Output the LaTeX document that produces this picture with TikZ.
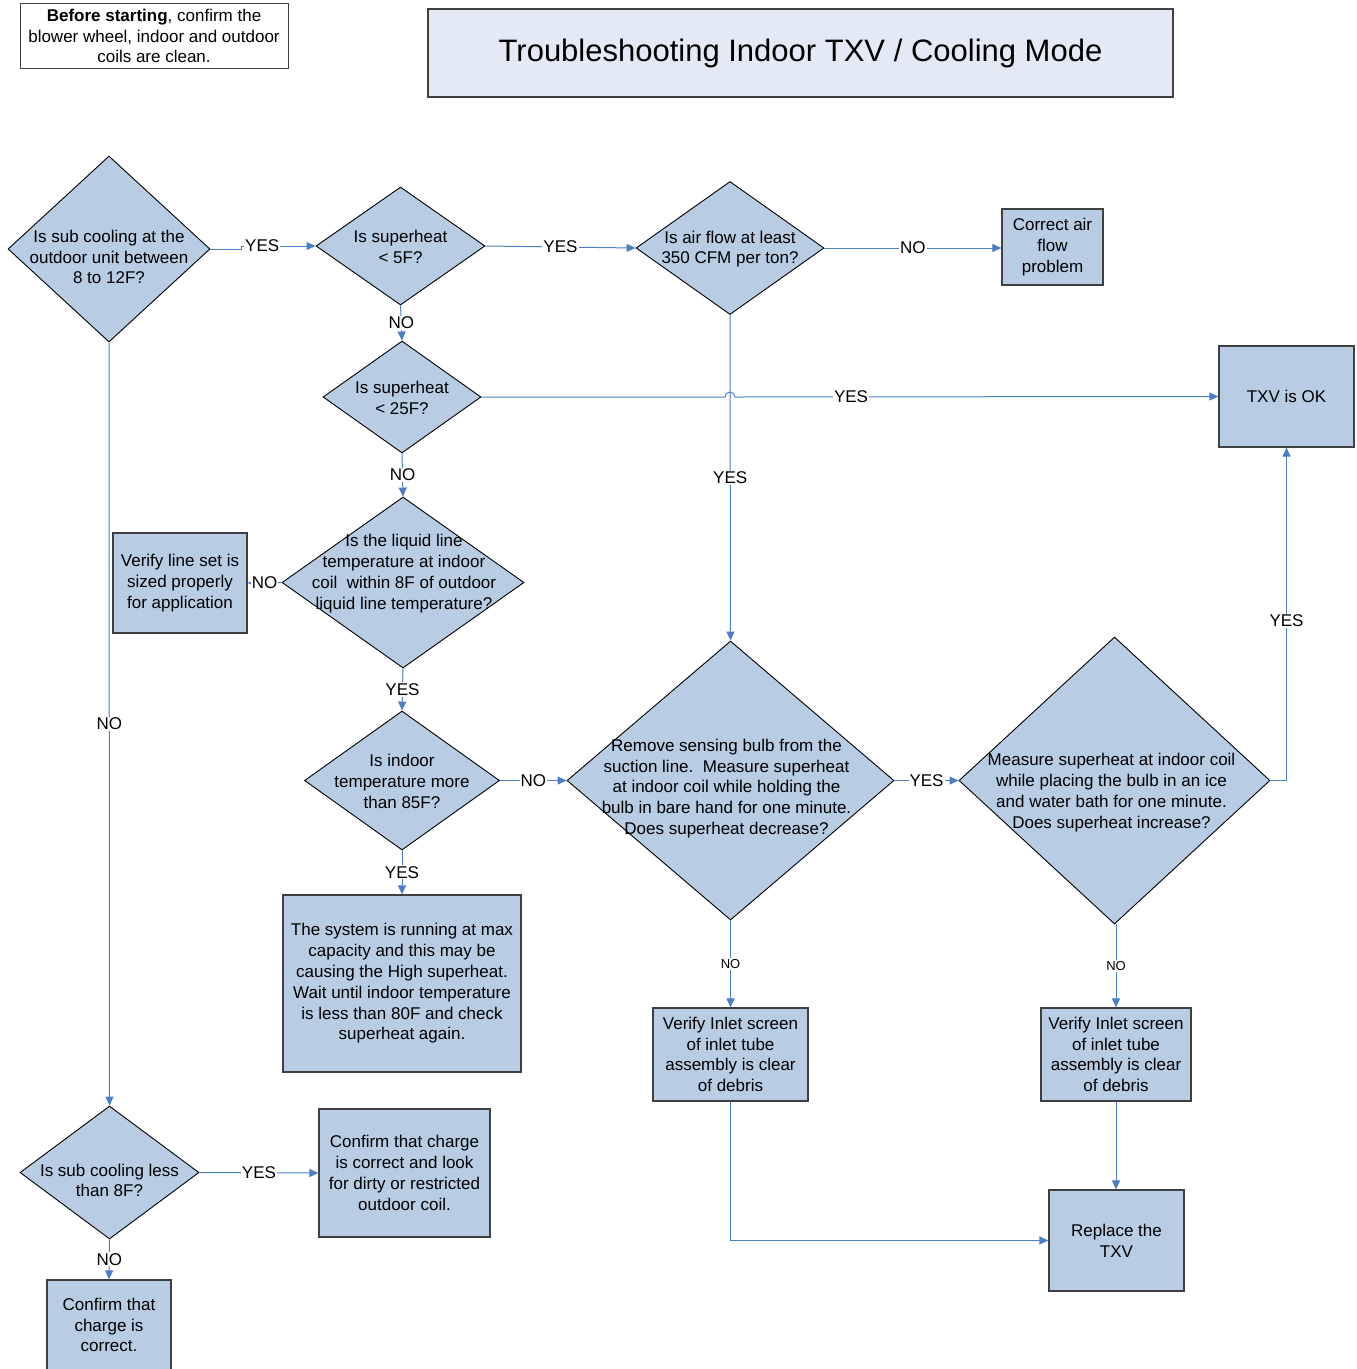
\documentclass[tikz,border=0pt]{standalone}
\usepackage{fontspec}
\setmainfont{Liberation Sans}
\usetikzlibrary{shapes.geometric,arrows.meta,calc}

\definecolor{boxblue}{HTML}{B8CCE4}
\definecolor{titleblue}{HTML}{E4EAF5}
\definecolor{lineblue}{HTML}{4A7EC8}

\begin{document}
\begin{tikzpicture}[x=1pt, y=-1pt,
    txt/.style={font=\fontsize{17}{20.8}\selectfont, align=center},
    decision/.style={shape=diamond, draw=black, line width=0.9pt, fill=boxblue, inner sep=0pt},
    qtext/.style={txt, inner sep=0pt},
    action/.style={txt, draw=black!75, line width=1.2pt, fill=boxblue, inner sep=2pt},
    arr/.style={draw=lineblue, line width=1pt, -{Triangle[length=9pt,width=8pt]}},
    lab/.style={txt, fill=white, inner sep=1pt},
    smalllab/.style={lab, font=\fontsize{13}{15}\selectfont}]
    \useasboundingbox (0,0) rectangle (1357,1369);

    % header
    \node[txt, draw=black!75, line width=1pt, minimum width=268pt, minimum height=65pt, inner sep=0pt] (note) at (154,36)
        {\textbf{Before starting}, confirm the\\ blower wheel, indoor and outdoor\\ coils are clean.};
    \node[draw=black!75, line width=1.2pt, fill=titleblue, minimum width=745pt, minimum height=88pt,
        font=\fontsize{31}{36}\selectfont] (title) at (800.5,53) {\raisebox{-2pt}{Troubleshooting Indoor TXV / Cooling Mode}};

    % decisions
    \node[decision, minimum width=202pt, minimum height=186pt,
        label={[qtext, yshift=-8pt]center:Is sub cooling at the\\ outdoor unit between\\ 8 to 12F?}] (subcool) at (109,249) {};
    \node[decision, minimum width=169pt, minimum height=118pt,
        label={[qtext, yshift=-1pt]center:Is superheat\\ < 5F?}] (sh5) at (400.5,246) {};
    \node[decision, minimum width=188pt, minimum height=133pt,
        label={[qtext, yshift=-1pt]center:Is air flow at least\\ 350 CFM per ton?}] (airflow) at (730,248) {};
    \node[decision, minimum width=158pt, minimum height=112pt,
        label={[qtext, yshift=-1pt]center:Is superheat\\ < 25F?}] (sh25) at (402,397) {};
    \node[decision, minimum width=242pt, minimum height=171pt,
        label={[qtext, yshift=9pt, xshift=1pt]center:Is the liquid line\\ temperature at indoor\\ coil\ \ within 8F of outdoor\\ liquid line temperature?}] (liquid) at (403,582.5) {};
    \node[decision, minimum width=195pt, minimum height=139pt,
        label={[qtext, yshift=-1pt]center:Is indoor\\ temperature more\\ than 85F?}] (indoor) at (402,780.5) {};
    \node[decision, minimum width=327pt, minimum height=279pt,
        label={[qtext, yshift=-8pt, xshift=-4pt]center:Remove sensing bulb from the\\ suction line.\ \ Measure superheat\\ at indoor coil while holding the\\ bulb in bare hand for one minute.\\ Does superheat decrease?}] (hand) at (730.5,780.5) {};
    \node[decision, minimum width=311pt, minimum height=287pt,
        label={[qtext, yshift=-12pt, xshift=-3pt]center:Measure superheat at indoor coil\\ while placing the bulb in an ice\\ and water bath for one minute.\\ Does superheat increase?}] (ice) at (1114.5,780.5) {};
    \node[decision, minimum width=179pt, minimum height=133pt,
        label={[qtext, yshift=-8pt]center:Is sub cooling less\\ than 8F?}] (low) at (109.5,1172.5) {};

    % actions
    \node[action, minimum width=101pt, minimum height=76pt] (airfix) at (1052.5,247) {Correct air\\ flow\\ problem};
    \node[action, minimum width=135pt, minimum height=101pt] (ok) at (1286.5,396.5) {TXV is OK};
    \node[action, minimum width=134pt, minimum height=100pt] (lineset) at (180,583) {Verify line set is\\ sized properly\\ for application};
    \node[action, minimum width=238pt, minimum height=177pt] (maxcap) at (402,983.5)
        {The system is running at max\\ capacity and this may be\\ causing the High superheat.\\ Wait until indoor temperature\\ is less than 80F and check\\ superheat again.};
    \node[action, minimum width=155pt, minimum height=93pt] (screena) at (730.5,1054.5) {Verify Inlet screen\\ of inlet tube\\ assembly is clear\\ of debris};
    \node[action, minimum width=150pt, minimum height=93pt] (screenb) at (1116,1054.5) {Verify Inlet screen\\ of inlet tube\\ assembly is clear\\ of debris};
    \node[action, minimum width=135pt, minimum height=101pt] (replace) at (1116.5,1240.5) {Replace the\\ TXV};
    \node[action, minimum width=171pt, minimum height=128pt] (coil) at (404.5,1173) {Confirm that charge\\ is correct and look\\ for dirty or restricted\\ outdoor coil.};
    \node[action, minimum width=124pt, minimum height=90pt] (charge) at (109,1325) {Confirm that\\ charge is\\ correct.};

    % connectors
    \draw[arr] (subcool.east) -- ++(31,0) |- node[lab, pos=0.64] {YES} (sh5.west);
    \draw[arr] (sh5.east) -- node[lab] {YES} (airflow.west);
    \draw[arr] (airflow.east) -- node[lab] {NO} (airfix.west |- airflow.east);
    \draw[arr] (sh5.south) -- node[lab] {NO} (sh25.north);
    \draw[arr] (sh25.east) -- ($(airflow.south |- sh25.east)+(-5,0)$) arc[start angle=180, end angle=360, radius=5]
        -- node[lab, pos=0.24] {YES} (ok.west);
    \draw[arr] (airflow.south) -- node[lab] {YES} (hand.north);
    \draw[arr] (sh25.south) -- node[lab] {NO} (liquid.north);
    \draw[arr] (liquid.west) -- node[lab] {NO} (lineset.east);
    \draw[arr] (liquid.south) -- node[lab] {YES} (indoor.north);
    \draw[arr] (indoor.east) -- node[lab] {NO} (hand.west);
    \draw[arr] (indoor.south) -- node[lab] {YES} (maxcap.north);
    \draw[arr] (hand.east) -- node[lab] {YES} (ice.west);
    \draw[arr] (ice.east) -| node[lab, pos=0.74] {YES} (ok.south);
    \draw[arr] (hand.south) -- node[smalllab] {NO} (screena.north);
    \draw[arr] (screenb.north |- ice.south) -- node[smalllab] {NO} (screenb.north);
    \draw[arr] (screena.south) |- (replace.west);
    \draw[arr] (screenb.south) -- (replace.north -| screenb.south);
    \draw[arr] (subcool.south) -- node[lab] {NO} (low.north);
    \draw[arr] (low.east) -- node[lab] {YES} (coil.west);
    \draw[arr] (low.south) -- node[lab] {NO} (charge.north);
\end{tikzpicture}
\end{document}
